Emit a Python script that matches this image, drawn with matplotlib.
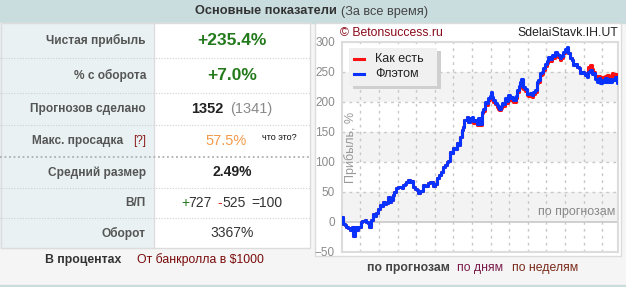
import matplotlib
matplotlib.use('Agg')
import matplotlib.pyplot as plt
from matplotlib.patches import Rectangle

plt.rcParams['font.family'] = ['Liberation Sans', 'DejaVu Sans']

# Data
preds = [0, 2, 5, 13, 20, 29, 39, 47, 54, 56, 62, 69, 78, 92, 98, 111, 118, 127, 132, 144,
         152, 162, 168, 176, 185, 191, 201, 211, 217, 225, 235, 242, 250, 257, 266, 274, 283, 292, 299, 309,
         315, 323, 331, 338, 348, 358, 366, 372, 382, 397, 407, 421, 431, 446, 456, 466, 475, 487, 495, 503,
         513, 519, 529, 537, 546, 554, 562, 568, 578, 587, 593, 598, 611, 619, 627, 636, 642, 652, 659, 668,
         676, 684, 691, 701, 708, 717, 725, 730, 735, 742, 750, 758, 764, 769, 777, 783, 791, 799, 806, 815,
         823, 832, 838, 844, 850, 856, 865, 872, 877, 888, 897, 905, 911, 921, 929, 938, 946, 954, 962, 970,
         979, 987, 995, 1002, 1011, 1019, 1028, 1034, 1044, 1051, 1060, 1068, 1075, 1084, 1093, 1101, 1109, 1117, 1125, 1134,
         1142, 1150, 1159, 1166, 1175, 1183, 1191, 1200, 1205, 1215, 1223, 1231, 1240, 1248, 1257, 1264, 1273, 1279, 1289, 1297,
         1306, 1313, 1322, 1328, 1338, 1346, 1352]
flat = [0, 8, -3, -5, -8, -10, -13, -9, -19, -23, -9, -14, -8, 0, 2, 3, 0, -2, -8, 3,
        14, 10, 15, 22, 28, 26, 34, 30, 31, 42, 34, 37, 45, 50, 56, 58, 59, 57, 62, 64,
        67, 70, 66, 68, 58, 55, 53, 48, 51, 62, 60, 65, 67, 60, 63, 73, 79, 84, 92, 95,
        100, 101, 117, 115, 123, 121, 131, 128, 142, 153, 158, 170, 175, 167, 173, 175, 168, 170, 164, 173,
        164, 184, 188, 200, 198, 206, 210, 217, 208, 203, 199, 195, 191, 189, 193, 198, 196, 206, 202, 212,
        206, 209, 203, 203, 210, 220, 226, 234, 238, 225, 222, 214, 213, 215, 212, 217, 220, 234, 237, 248,
        250, 256, 263, 268, 275, 272, 278, 276, 284, 280, 278, 273, 276, 284, 288, 291, 281, 273, 270, 262,
        264, 259, 256, 248, 250, 248, 245, 242, 250, 253, 246, 248, 238, 234, 240, 232, 237, 233, 240, 234,
        238, 233, 239, 236, 241, 231, 233]
as_is = [0, 8, -3, -5, -8, -10, -13, -9, -19, -23, -9, -14, -8, 0, 2, 3, 0, -2, -8, 3,
         14, 10, 15, 22, 28, 26, 34, 30, 31, 42, 34, 37, 45, 50, 56, 58, 59, 57, 62, 64,
         67, 70, 66, 68, 58, 55, 53, 48, 51, 62, 60, 65, 67, 60, 63, 73, 79, 84, 92, 95,
         100, 101, 117, 115, 123, 121, 131, 128, 142, 153, 158, 170, 175, 167, 170, 172, 165, 167, 161, 170,
         161, 181, 185, 197, 195, 203, 207, 214, 205, 200, 196, 192, 188, 186, 190, 195, 193, 203, 199, 209,
         203, 206, 200, 200, 207, 217, 223, 231, 235, 222, 219, 211, 210, 212, 209, 214, 217, 231, 234, 245,
         247, 253, 260, 265, 272, 269, 275, 273, 281, 277, 275, 270, 273, 281, 285, 288, 281, 273, 270, 262,
         264, 259, 256, 248, 250, 248, 245, 246, 258, 262, 255, 250, 243, 239, 244, 240, 242, 240, 244, 245,
         242, 243, 248, 244, 246, 239, 238]

y_ticks = [-50, 0, 50, 100, 150, 200, 250, 300]

row_labels = ['Чистая прибыль', '% с оборота', 'Прогнозов сделано', 'Макс. просадка',
              'Средний размер', 'В/П', 'Оборот']
row_y = [40.5, 75.5, 109, 141, 172.5, 203, 233]
label_right = [146, 146, 146, 123, 146, 146, 146]

W, H = 626, 287
fig = plt.figure(figsize=(W / 100, H / 100), dpi=100)

# background layer in pixel coordinates
bg = fig.add_axes([0, 0, 1, 1])
bg.set_xlim(0, W)
bg.set_ylim(H, 0)
bg.axis('off')

bg.add_patch(Rectangle((0, 0), W, H, color='#f5f5f5', zorder=0))
bg.add_patch(Rectangle((0, 0), W, 23, color='#c9dcde', zorder=1))
bg.add_patch(Rectangle((0, 284.5), W, 3, color='#c9dcde', zorder=1))
# table
bg.add_patch(Rectangle((0, 23), 154, 225, color='#e9f1f2', zorder=1))
bg.add_patch(Rectangle((154, 23), 156, 225, color='white', zorder=1))
bg.add_patch(Rectangle((0.5, 23), 309.5, 225, fill=False, ec='#dcdcdc', lw=1, zorder=3))
bg.plot([154, 154], [23, 248], color='#dcdcdc', lw=1, zorder=3)
for yy in [58, 93, 125, 188, 218]:
    bg.plot([0, 310], [yy, yy], color='#d0d0d0', lw=0.8, ls=(0, (1, 1.5)), zorder=3)
bg.plot([0, 310], [157, 157], color='#b0b0b0', lw=1.3, ls=(0, (1, 1.5)), zorder=3)
# chart panel
bg.add_patch(Rectangle((314.5, 23), 306, 233, fc='white', ec='#dcdcdc', lw=1, zorder=1))

# header
bg.text(337, 11.5, 'Основные показатели', ha='right', va='center', fontsize=9.2,
        fontweight='bold', color='#333333', zorder=5)
bg.text(341, 11.5, '(За все время)', ha='left', va='center', fontsize=9.2,
        color='#444444', zorder=5)

for lab, yy, xr in zip(row_labels, row_y, label_right):
    bg.text(xr, yy, lab, ha='right', va='center', fontsize=8.6, fontweight='bold',
            color='#555555', zorder=5)
bg.text(146, row_y[3], '[?]', ha='right', va='center', fontsize=8.5, color='#8b1a1a', zorder=5)

bg.text(232, row_y[0], '+235.4%', ha='center', va='center', fontsize=12.5,
        fontweight='bold', color='#237a1c', zorder=5)
bg.text(232, row_y[1], '+7.0%', ha='center', va='center', fontsize=12.5,
        fontweight='bold', color='#237a1c', zorder=5)
bg.text(223, row_y[2], '1352', ha='right', va='center', fontsize=10.5,
        fontweight='bold', color='#222222', zorder=5)
bg.text(230, row_y[2], '(1341)', ha='left', va='center', fontsize=10.5,
        color='#8a8a8a', zorder=5)
bg.text(226, row_y[3], '57.5%', ha='center', va='center', fontsize=10.5,
        color='#f39a4a', zorder=5)
bg.text(262, row_y[3] - 3, 'что это?', ha='left', va='center', fontsize=6.5,
        color='#111111', zorder=5)
bg.text(232, row_y[4], '2.49%', ha='center', va='center', fontsize=10,
        fontweight='bold', color='#222222', zorder=5)
bg.text(181, row_y[5], '+', ha='left', va='center', fontsize=10, color='#237a1c', zorder=5)
bg.text(188, row_y[5], '727', ha='left', va='center', fontsize=10, color='#333333', zorder=5)
bg.text(217, row_y[5], '-', ha='left', va='center', fontsize=10, color='#e02020', zorder=5)
bg.text(222, row_y[5], '525', ha='left', va='center', fontsize=10, color='#333333', zorder=5)
bg.text(251, row_y[5], '=100', ha='left', va='center', fontsize=10, color='#333333', zorder=5)
bg.text(232, row_y[6], '3367%', ha='center', va='center', fontsize=10, color='#333333', zorder=5)

bg.text(83, 260, 'В процентах', ha='center', va='center', fontsize=8.8,
        fontweight='bold', color='#333333', zorder=5)
bg.text(200, 260, 'От банкролла в $1000', ha='center', va='center', fontsize=8.8,
        color='#7a0a0a', zorder=5)

bg.text(408, 268.5, 'по прогнозам', ha='center', va='center', fontsize=8.8,
        fontweight='bold', color='#444444', zorder=5)
bg.text(480, 268.5, 'по дням', ha='center', va='center', fontsize=8.8,
        color='#7a1a4a', zorder=5)
bg.text(545, 268.5, 'по неделям', ha='center', va='center', fontsize=8.8,
        color='#7a2a1a', zorder=5)

bg.text(340, 33, '© Betonsuccess.ru', ha='left', va='center', fontsize=8.8,
        color='#8b0a1a', zorder=5)
bg.text(618, 33, 'SdelaiStavk.IH.UT', ha='right', va='center', fontsize=8.8,
        color='#222222', zorder=5)

# the chart itself
ax = fig.add_axes([342 / W, 1 - 252 / H, 276 / W, 210 / H])
ax.set_xlim(0, 1352)
ax.set_ylim(-50, 300)
for lo in [0, 100, 200]:
    ax.axhspan(lo, lo + 50, color='#f3f3f3', lw=0, zorder=0)
for yv in [50, 100, 150, 200, 250]:
    ax.axhline(yv, color='#c8c8c8', lw=1, ls=(0, (2, 3)), zorder=1)
ax.axhline(0, color='#c8c8c8', lw=1.2, zorder=1)
ax.set_xticks([90 + 91.1 * k for k in range(14)])
ax.grid(axis='x', color='#c8c8c8', lw=1, ls=(0, (2, 3)))
ax.set_axisbelow(True)
ax.set_yticks(y_ticks)
ax.tick_params(axis='x', length=0, labelbottom=False)
ax.tick_params(axis='y', length=0, labelsize=8.5, labelcolor='#8a8a8a', pad=5)
for s in ax.spines.values():
    s.set_color('#dcdcdc')
    s.set_linewidth(1.5)

ax.plot(preds, as_is, color='#ff1010', lw=2.2, drawstyle='steps-post', zorder=3)
ax.plot(preds, flat, color='#0a32ff', lw=2.2, drawstyle='steps-post', zorder=4)

ax.text(0.03, 0.5, 'Прибыль, %', rotation=90, transform=ax.transAxes, ha='center',
        va='center', fontsize=9, color='#999999')
ax.text(0.99, 0.19, 'по прогнозам', transform=ax.transAxes, ha='right', va='center',
        fontsize=9, color='#888888')

# legend box
ax.add_patch(Rectangle((0.04, 0.775), 0.32, 0.18, transform=ax.transAxes,
                       fc='#cfcfcf', lw=0, zorder=5))
ax.add_patch(Rectangle((0.025, 0.79), 0.32, 0.18, transform=ax.transAxes,
                       fc='#f0f0f0', lw=0, zorder=6))
ax.plot([0.045, 0.08], [0.917, 0.917], transform=ax.transAxes, color='#ff1010', lw=2.2, zorder=7)
ax.plot([0.045, 0.08], [0.847, 0.847], transform=ax.transAxes, color='#0a32ff', lw=2.2, zorder=7)
ax.text(0.12, 0.917, 'Как есть', transform=ax.transAxes, ha='left', va='center',
        fontsize=9, color='#222222', zorder=7)
ax.text(0.12, 0.847, 'Флэтом', transform=ax.transAxes, ha='left', va='center',
        fontsize=9, color='#222222', zorder=7)

fig.savefig('out.png', dpi=100)
